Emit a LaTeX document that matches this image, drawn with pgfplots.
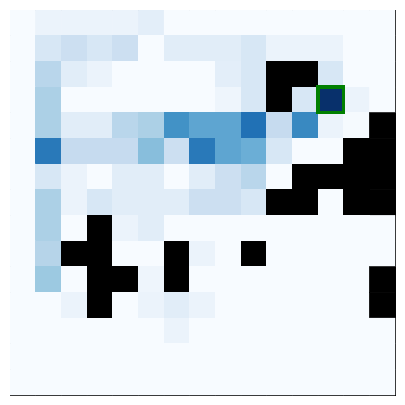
\documentclass[border=0pt]{standalone}
\usepackage{pgfplots}
\pgfplotsset{compat=1.18}
\begin{document}
\begin{tikzpicture}
\begin{axis}[
  scale only axis, width=385pt, height=385pt,
  xmin=-0.5, xmax=14.5, ymin=-0.5, ymax=14.5, y dir=reverse,
  xtick=\empty, ytick=\empty,
  axis line style={black, line width=0.9pt},
  colormap={gw}{rgb255(0pt)=(247,251,255) rgb255(10pt)=(222,235,247) rgb255(20pt)=(198,219,239) rgb255(30pt)=(158,202,225) rgb255(40pt)=(107,174,214) rgb255(50pt)=(66,146,198) rgb255(60pt)=(33,113,181) rgb255(70pt)=(8,81,156) rgb255(80pt)=(8,48,107) rgb255(81pt)=(0,0,0) rgb255(100pt)=(0,0,0)},
  point meta min=0, point meta max=1.25,
]
\addplot[matrix plot*, mesh/cols=15, point meta=explicit] table[meta=c] {
x y c
0 0 0
1 0 0.06
2 0 0.06
3 0 0.06
4 0 0.06
5 0 0.10
6 0 0
7 0 0
8 0 0
9 0 0
10 0 0
11 0 0
12 0 0
13 0 0
14 0 0
0 1 0
1 1 0.16
2 1 0.22
3 1 0.16
4 1 0.22
5 1 0
6 1 0.11
7 1 0.11
8 1 0.11
9 1 0.16
10 1 0.06
11 1 0.06
12 1 0.06
13 1 0
14 1 0
0 2 0
1 2 0.29
2 2 0.11
3 2 0.06
4 2 0
5 2 0
6 2 0
7 2 0
8 2 0.10
9 2 0.16
10 2 1.25
11 2 1.25
12 2 0.16
13 2 0
14 2 0
0 3 0
1 3 0.33
2 3 0
3 3 0
4 3 0
5 3 0
6 3 0
7 3 0
8 3 0.045
9 3 0.16
10 3 1.25
11 3 0.16
12 3 1.0
13 3 0.06
14 3 0
0 4 0
1 4 0.33
2 4 0.11
3 4 0.11
4 4 0.29
5 4 0.33
6 4 0.625
7 4 0.54
8 4 0.54
9 4 0.75
10 4 0.25
11 4 0.66
12 4 0.06
13 4 0.01
14 4 1.25
0 5 0
1 5 0.72
2 5 0.25
3 5 0.25
4 5 0.25
5 5 0.43
6 5 0.22
7 5 0.72
8 5 0.54
9 5 0.50
10 5 0.16
11 5 0
12 5 0
13 5 1.25
14 5 1.25
0 6 0
1 6 0.16
2 6 0.06
3 6 0
4 6 0.11
5 6 0.11
6 6 0
7 6 0.11
8 6 0.22
9 6 0.29
10 6 0
11 6 1.25
12 6 1.25
13 6 1.25
14 6 1.25
0 7 0
1 7 0.33
2 7 0.06
3 7 0.16
4 7 0.11
5 7 0.11
6 7 0.11
7 7 0.22
8 7 0.22
9 7 0.16
10 7 1.25
11 7 1.25
12 7 0
13 7 1.25
14 7 1.25
0 8 0
1 8 0.33
2 8 0
3 8 1.25
4 8 0.06
5 8 0.11
6 8 0
7 8 0
8 8 0
9 8 0
10 8 0
11 8 0
12 8 0
13 8 0
14 8 0
0 9 0
1 9 0.30
2 9 1.25
3 9 1.25
4 9 0
5 9 0
6 9 1.25
7 9 0.06
8 9 0
9 9 1.25
10 9 0
11 9 0
12 9 0
13 9 0
14 9 0
0 10 0
1 10 0.38
2 10 0
3 10 1.25
4 10 1.25
5 10 0.045
6 10 1.25
7 10 0
8 10 0
9 10 0
10 10 0
11 10 0
12 10 0
13 10 0
14 10 1.25
0 11 0
1 11 0
2 11 0.06
3 11 1.25
4 11 0
5 11 0.06
6 11 0.11
7 11 0.06
8 11 0
9 11 0
10 11 0
11 11 0
12 11 0
13 11 0
14 11 1.25
0 12 0
1 12 0
2 12 0
3 12 0
4 12 0
5 12 0
6 12 0.06
7 12 0
8 12 0
9 12 0
10 12 0
11 12 0
12 12 0
13 12 0
14 12 0
0 13 0
1 13 0
2 13 0
3 13 0
4 13 0
5 13 0
6 13 0
7 13 0
8 13 0
9 13 0
10 13 0
11 13 0
12 13 0
13 13 0
14 13 0
0 14 0
1 14 0
2 14 0
3 14 0
4 14 0
5 14 0
6 14 0
7 14 0
8 14 0
9 14 0
10 14 0
11 14 0
12 14 0
13 14 0
14 14 0
};
\addplot[draw={rgb,255:red,0;green,128;blue,0}, line width=3.5pt, mark=none] coordinates {(11.5,2.5) (12.5,2.5) (12.5,3.5) (11.5,3.5)} -- cycle;
\end{axis}
\path (current axis.south west) ++(-10pt,-10pt) (current axis.north east) ++(10pt,10pt);
\end{tikzpicture}
\end{document}
